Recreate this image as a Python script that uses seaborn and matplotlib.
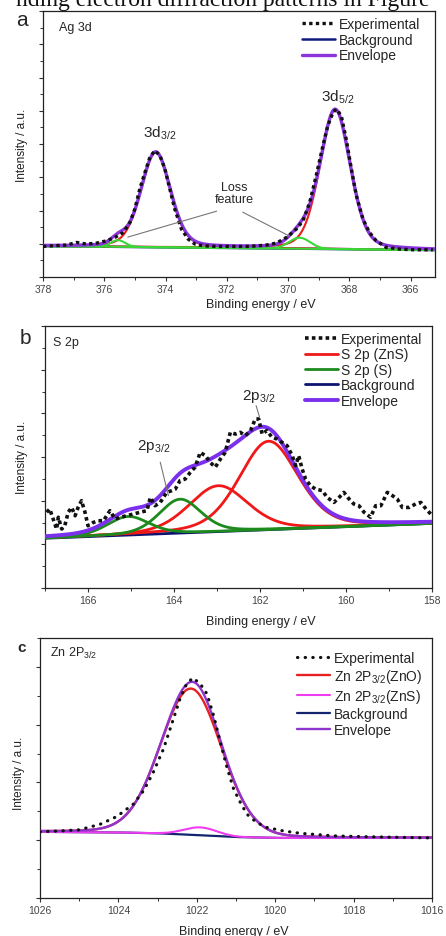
import numpy as np
import matplotlib
matplotlib.use("Agg")
import matplotlib.pyplot as plt
import seaborn as sns
from matplotlib.ticker import MultipleLocator

# ---------------- data ----------------
# Panel a : Ag 3d
a_exp_be = [378.0, 377.66, 377.23, 376.90, 376.58, 376.25, 375.92, 375.65, 375.38, 375.16,
            375.00, 374.84, 374.67, 374.51, 374.35, 374.18, 374.02, 373.86, 373.70, 373.48,
            373.26, 373.04, 372.77, 372.34, 371.79, 371.25, 370.71, 370.38, 370.05, 369.73,
            369.51, 369.29, 369.08, 368.86, 368.70, 368.53, 368.42, 368.26, 368.10, 367.93,
            367.77, 367.55, 367.34, 367.12, 366.79, 366.36, 365.92, 365.27]
a_exp_int = [-0.08, -0.06, -0.04, 0.04, -0.01, 0.02, 0.09, 0.19, 0.34, 0.64,
             1.05, 1.65, 2.15, 2.60, 2.80, 2.65, 2.25, 1.65, 1.05, 0.44,
             0.14, -0.01, -0.06, -0.08, -0.08, -0.08, -0.04, 0.02, 0.19, 0.44,
             0.69, 1.25, 2.05, 2.95, 3.55, 3.95, 4.05, 3.85, 3.15, 2.25,
             1.45, 0.74, 0.34, 0.09, -0.11, -0.16, -0.18, -0.18]
a_bg_be = [378.0, 365.2]
a_bg_int = [-0.07, -0.19]
a_peak_center = [368.46, 374.32]      # Ag 3d5/2, 3d3/2 (red)
a_peak_height = [4.20, 2.86]
a_peak_fwhm = [1.17, 1.14]
a_loss_center = [369.62, 375.55]      # loss features (green)
a_loss_height = [0.33, 0.20]
a_loss_fwhm = [0.80, 0.55]

# Panel b : S 2p
b_exp_be = [166.96, 166.89, 166.81, 166.73, 166.69, 166.61, 166.54, 166.46, 166.38, 166.30,
            166.23, 166.15, 166.07, 166.00, 165.88, 165.76, 165.64, 165.49, 165.37, 165.25,
            165.10, 164.94, 164.79, 164.63, 164.55, 164.44, 164.32, 164.17, 164.05, 163.97,
            163.86, 163.74, 163.62, 163.51, 163.39, 163.27, 163.16, 163.04, 162.92, 162.81,
            162.69, 162.57, 162.46, 162.34, 162.22, 162.11, 162.03, 161.95, 161.84, 161.72,
            161.60, 161.49, 161.37, 161.25, 161.17, 161.10, 161.02, 160.94, 160.83, 160.71,
            160.55, 160.44, 160.28, 160.16, 160.05, 159.93, 159.82, 159.70, 159.58, 159.43,
            159.31, 159.19, 159.04, 158.92, 158.81, 158.69, 158.53, 158.38, 158.26, 158.14,
            158.03]
b_exp_int = [3.47, 3.62, 3.16, 2.70, 3.24, 2.70, 2.85, 3.47, 3.69, 3.31,
             3.69, 4.00, 3.47, 2.85, 3.00, 3.08, 3.08, 3.54, 3.16, 3.24,
             3.31, 3.39, 3.47, 3.54, 4.15, 3.77, 3.92, 4.38, 4.46, 4.53,
             4.92, 4.99, 5.30, 5.53, 6.21, 6.06, 5.76, 5.53, 5.91, 6.21,
             7.13, 7.05, 7.13, 6.98, 7.21, 7.74, 7.74, 7.05, 7.21, 6.90,
             6.82, 6.67, 6.52, 6.06, 5.60, 6.06, 5.45, 4.99, 4.69, 4.53,
             4.46, 4.15, 3.92, 4.15, 4.38, 4.08, 3.85, 3.77, 3.47, 3.24,
             3.77, 3.77, 4.38, 4.23, 4.08, 3.69, 3.69, 3.85, 3.92, 3.62,
             3.39]
b_bg_be = [167.0, 158.0]
b_bg_int = [2.28, 2.96]
b_zns_center = [161.80, 162.97]       # S 2p (ZnS) red
b_zns_height = [4.05, 2.10]
b_zns_fwhm = [1.62, 1.62]
b_s_center = [163.86, 165.07]         # S 2p (S) green
b_s_height = [1.55, 0.85]
b_s_fwhm = [1.15, 1.15]

# Panel c : Zn 2P3/2
c_exp_be = [1026.0, 1025.5, 1025.0, 1024.47, 1024.04, 1023.62, 1023.36, 1023.11, 1022.85, 1022.64,
            1022.43, 1022.26, 1022.10, 1021.91, 1021.74, 1021.57, 1021.40, 1021.23, 1021.06, 1020.89,
            1020.72, 1020.47, 1020.21, 1019.79, 1019.36, 1018.51, 1017.66, 1016.0]
c_exp_int = [2.29, 2.32, 2.36, 2.55, 2.82, 3.25, 3.71, 4.35, 5.16, 6.02,
             6.89, 7.41, 7.62, 7.41, 7.06, 6.31, 5.39, 4.52, 3.77, 3.31,
             2.90, 2.61, 2.44, 2.32, 2.24, 2.15, 2.12, 2.08]
c_bg_be = [1026.0, 1024.0, 1023.0, 1022.0, 1021.0, 1020.0, 1016.0]
c_bg_int = [2.29, 2.27, 2.24, 2.18, 2.11, 2.08, 2.08]
c_zno_center, c_zno_height, c_zno_fwhm = 1022.15, 5.06, 1.85
c_zns_center, c_zns_height, c_zns_fwhm = 1021.91, 0.27, 1.00

# ---------------- style ----------------
sns.set_theme(style="ticks")
plt.rcParams["font.family"] = ["Liberation Sans", "DejaVu Sans"]
plt.rcParams["mathtext.fontset"] = "custom"
plt.rcParams["mathtext.rm"] = "Liberation Sans"
plt.rcParams["mathtext.it"] = "Liberation Sans"
plt.rcParams["mathtext.sf"] = "Liberation Sans"


def pvoigt(x, c, h, w, eta):
    u = (x - c) / w
    return h * ((1 - eta) * np.exp(-4 * np.log(2) * u ** 2) + eta / (1 + 4 * u ** 2))


def bgline(x, be, it):
    be = np.asarray(be)
    it = np.asarray(it)
    o = np.argsort(be)
    return np.interp(x, be[o], it[o])


def style_axes(ax, xlim, ylim, ymaj, ymin):
    ax.set_xlim(*xlim)
    ax.set_ylim(*ylim)
    ax.xaxis.set_major_locator(MultipleLocator(2))
    ax.xaxis.set_minor_locator(MultipleLocator(1))
    ax.yaxis.set_major_locator(MultipleLocator(ymaj))
    ax.yaxis.set_minor_locator(MultipleLocator(ymin))
    ax.tick_params(axis="both", which="major", direction="out", length=3.2, width=0.8,
                   color="#333333", labelsize=7.5, labelcolor="#444444", pad=2)
    ax.tick_params(axis="both", which="minor", direction="out", length=2.0, width=0.7,
                   color="#333333")
    ax.tick_params(axis="y", labelleft=False)
    for s in ax.spines.values():
        s.set_linewidth(0.9)
        s.set_color("#222222")
    ax.set_xlabel("Binding energy / eV", fontsize=9, color="#222222")
    ax.set_ylabel("Intensity / a.u.", fontsize=8.5, color="#222222")


fig = plt.figure(figsize=(4.46, 9.37), dpi=100)

# cut-off line of the page text above the figure
fig.text(0.5, 1 - 6 / 937, "nding electron diffraction patterns in Figure",
         family=["Liberation Serif", "DejaVu Serif"], fontsize=17, ha="center",
         va="baseline", color="#111111")

# ================= panel a =================
axa = fig.add_axes([43 / 446, 1 - 278 / 937, 392 / 446, 266 / 937])
xa = np.linspace(378, 365.2, 700)
bga = bgline(xa, a_bg_be, a_bg_int)
reds = [pvoigt(xa, c, h, w, 0.25) for c, h, w in zip(a_peak_center, a_peak_height, a_peak_fwhm)]
greens = [pvoigt(xa, c, h, w, 0.0) for c, h, w in zip(a_loss_center, a_loss_height, a_loss_fwhm)]
enva = bga + sum(reds) + sum(greens)
sns.lineplot(x=xa, y=bga, ax=axa, color="#101c7c", linewidth=1.8, sort=False, zorder=2,
             label="Background")
for r in reds:
    sns.lineplot(x=xa, y=bga + r, ax=axa, color="#ee1c1c", linewidth=1.5, sort=False, zorder=3)
for g in greens:
    sns.lineplot(x=xa, y=bga + g, ax=axa, color="#38d838", linewidth=1.5, sort=False, zorder=3)
sns.lineplot(x=xa, y=enva, ax=axa, color="#8a35dc", linewidth=2.4, sort=False, zorder=4,
             label="Envelope")
sns.lineplot(x=a_exp_be, y=a_exp_int, ax=axa, color="#111111", linewidth=2.4, sort=False,
             zorder=5, linestyle=(0, (1.0, 1.0)), label="Experimental")
style_axes(axa, (378, 365.2), (-1, 7), 1, 0.5)
h, l = axa.get_legend_handles_labels()
order = [l.index("Experimental"), l.index("Background"), l.index("Envelope")]
axa.legend([h[i] for i in order], [l[i] for i in order], loc="upper left",
           bbox_to_anchor=(0.661, 0.977), frameon=False, fontsize=10, handlelength=2.4,
           handletextpad=0.25, labelspacing=0.12, borderpad=0, borderaxespad=0)
axa.text(0.041, 0.94, "Ag 3d", transform=axa.transAxes, fontsize=9, va="center", ha="left")
axa.text(374.19, 3.36, r"3d$_{3/2}$", fontsize=11, ha="center", va="center")
axa.text(368.38, 4.44, r"3d$_{5/2}$", fontsize=11, ha="center", va="center")
axa.text(371.74, 1.53, "Loss\nfeature", fontsize=9, ha="center", va="center", linespacing=1.05)
axa.plot([372.33, 375.23], [0.98, 0.20], color="#777777", lw=0.8, zorder=6)
axa.plot([371.48, 369.95], [0.95, 0.23], color="#777777", lw=0.8, zorder=6)
axa.xaxis.set_label_coords(0.556, -0.079)
axa.yaxis.set_label_coords(-0.038, 0.5)

# ================= panel b =================
axb = fig.add_axes([45 / 446, 1 - 589 / 937, 387 / 446, 262 / 937])
xb = np.linspace(167, 158, 700)
bgb = bgline(xb, b_bg_be, b_bg_int)
rb = [pvoigt(xb, c, h, w, 0.3) for c, h, w in zip(b_zns_center, b_zns_height, b_zns_fwhm)]
gb = [pvoigt(xb, c, h, w, 0.3) for c, h, w in zip(b_s_center, b_s_height, b_s_fwhm)]
envb = bgb + sum(rb) + sum(gb)
sns.lineplot(x=xb, y=bgb, ax=axb, color="#0c1470", linewidth=2.0, sort=False, zorder=2,
             label="Background")
for i, r in enumerate(rb):
    sns.lineplot(x=xb, y=bgb + r, ax=axb, color="#f01818", linewidth=2.0, sort=False, zorder=3,
                 label="S 2p (ZnS)" if i == 0 else None)
for i, g in enumerate(gb):
    sns.lineplot(x=xb, y=bgb + g, ax=axb, color="#1d8a1d", linewidth=2.0, sort=False, zorder=3,
                 label="S 2p (S)" if i == 0 else None)
sns.lineplot(x=xb, y=envb, ax=axb, color="#7a30ec", linewidth=2.8, sort=False, zorder=4,
             label="Envelope")
sns.lineplot(x=b_exp_be, y=b_exp_int, ax=axb, color="#111111", linewidth=2.6, sort=False,
             zorder=5, linestyle=(0, (1.0, 0.9)), label="Experimental")
style_axes(axb, (167, 158), (0, 12), 2, 1)
h, l = axb.get_legend_handles_labels()
order = [l.index(k) for k in ["Experimental", "S 2p (ZnS)", "S 2p (S)", "Background", "Envelope"]]
axb.legend([h[i] for i in order], [l[i] for i in order], loc="upper left",
           bbox_to_anchor=(0.672, 0.977), frameon=False, fontsize=10, handlelength=2.4,
           handletextpad=0.2, labelspacing=0.1, borderpad=0, borderaxespad=0)
axb.text(0.021, 0.939, "S 2p", transform=axb.transAxes, fontsize=9, va="center", ha="left")
axb.text(162.04, 8.80, r"2p$_{3/2}$", fontsize=11, ha="center", va="center")
axb.text(164.48, 6.52, r"2p$_{3/2}$", fontsize=11, ha="center", va="center")
axb.plot([162.09, 162.01], [8.35, 7.82], color="#777777", lw=0.8, zorder=6)
axb.plot([164.32, 164.13], [5.76, 4.23], color="#777777", lw=0.8, zorder=6)
axb.xaxis.set_label_coords(0.558, -0.103)
axb.yaxis.set_label_coords(-0.044, 0.504)

# ================= panel c =================
axc = fig.add_axes([40 / 446, 1 - 899 / 937, 392 / 446, 260 / 937])
xc = np.linspace(1026, 1016, 700)
bgc = bgline(xc, c_bg_be, c_bg_int)
rc = pvoigt(xc, c_zno_center, c_zno_height, c_zno_fwhm, 0.1)
mc = pvoigt(xc, c_zns_center, c_zns_height, c_zns_fwhm, 0.0)
envc = bgc + rc + mc
sns.lineplot(x=xc, y=bgc, ax=axc, color="#13246e", linewidth=1.6, sort=False, zorder=2,
             label="Background")
sns.lineplot(x=xc, y=bgc + rc, ax=axc, color="#e82020", linewidth=1.7, sort=False, zorder=3,
             label=r"Zn 2P$_{3/2}$(ZnO)")
sns.lineplot(x=xc, y=bgc + mc, ax=axc, color="#f03cf0", linewidth=1.5, sort=False, zorder=3,
             label=r"Zn 2P$_{3/2}$(ZnS)")
sns.lineplot(x=xc, y=envc, ax=axc, color="#9034d0", linewidth=1.7, sort=False, zorder=4,
             label="Envelope")
sns.lineplot(x=c_exp_be, y=c_exp_int, ax=axc, color="#111111", linewidth=2.3, sort=False,
             zorder=5, linestyle=(0, (0.1, 2.3)), dash_capstyle="round", label="Experimental")
style_axes(axc, (1026, 1016), (0, 9), 2, 1)
h, l = axc.get_legend_handles_labels()
order = [l.index(k) for k in ["Experimental", r"Zn 2P$_{3/2}$(ZnO)", r"Zn 2P$_{3/2}$(ZnS)",
                              "Background", "Envelope"]]
axc.legend([h[i] for i in order], [l[i] for i in order], loc="upper left",
           bbox_to_anchor=(0.656, 0.95), frameon=False, fontsize=10, handlelength=2.4,
           handletextpad=0.25, labelspacing=0.15, borderpad=0, borderaxespad=0)
axc.text(0.026, 0.946, r"Zn 2P$_{3/2}$", transform=axc.transAxes, fontsize=9, va="center",
         ha="left")
axc.xaxis.set_label_coords(0.495, -0.104)
axc.yaxis.set_label_coords(-0.038, 0.485)

# panel letters
fig.text(22 / 446, 1 - 21 / 937, "a", fontsize=15, ha="center", va="center")
fig.text(25 / 446, 1 - 338 / 937, "b", fontsize=15, ha="center", va="center")
fig.text(22 / 446, 1 - 648 / 937, "c", fontsize=11, fontweight="bold", ha="center", va="center")

fig.savefig("out.png", dpi=100)
